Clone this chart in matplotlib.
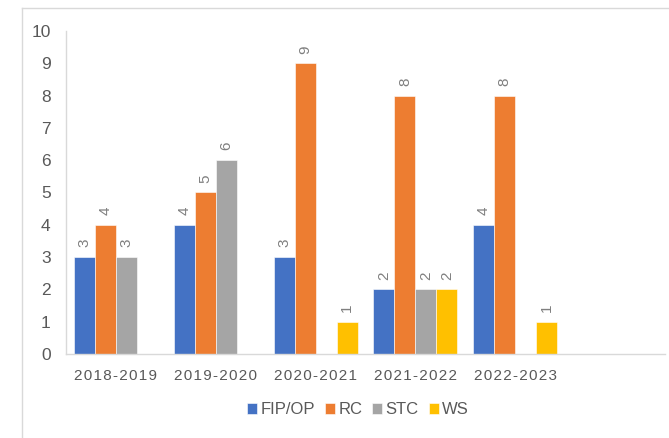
#!/usr/bin/env python3
"""Grouped bar chart of yearly counts per programme (FIP/OP, RC, STC, WS)."""

import matplotlib

matplotlib.use("Agg")

import matplotlib.pyplot as plt
import numpy as np
from matplotlib.lines import Line2D

YEARS = ["2018-2019", "2019-2020", "2020-2021", "2021-2022", "2022-2023", ""]
SERIES = ["FIP/OP", "RC", "STC", "WS"]
FIP_OP = [3, 4, 3, 2, 4, np.nan]
RC = [4, 5, 9, 8, 8, np.nan]
STC = [3, 6, np.nan, 2, np.nan, np.nan]
WS = [np.nan, np.nan, 1, 2, 1, np.nan]
Y_TICKS = list(range(0, 11))

COLORS = ["#4472C4", "#ED7D31", "#A5A5A5", "#FFC000"]
TEXT = "#595959"
LINE = "#D9D9D9"
HAIR = "\u200a"


def spaced(label: str) -> str:
    return HAIR.join(label)


def main() -> None:
    plt.rcParams["font.family"] = ["Liberation Sans", "DejaVu Sans"]

    fig = plt.figure(figsize=(6.69, 4.38), dpi=100)
    ax = fig.add_axes([66 / 669, 1 - 354 / 438, (665 - 66) / 669, (354 - 31) / 438])

    x = np.arange(len(YEARS))
    width = 0.21
    values = [FIP_OP, RC, STC, WS]
    for i, (name, vals, color) in enumerate(zip(SERIES, values, COLORS)):
        pos = x + (i - 1.5) * width
        arr = np.asarray(vals, dtype=float)
        ax.bar(pos, arr, width=width, color=color, edgecolor="white",
               linewidth=0.4, label=name)
        for px, v in zip(pos, arr):
            if np.isfinite(v):
                ax.annotate(f"{v:.0f}", (px, v), xytext=(0, 7),
                            textcoords="offset points", rotation=90,
                            ha="center", va="bottom", fontsize=11, color="#7F7F7F")

    ax.set_xlim(-0.5, len(YEARS) - 0.5)
    ax.set_ylim(0, 10)
    ax.set_yticks(Y_TICKS)
    ax.set_yticklabels([str(t) for t in Y_TICKS])
    ax.set_xticks(x)
    ax.set_xticklabels([spaced(y) for y in YEARS])
    ax.tick_params(axis="y", length=0, pad=11, labelsize=12.5, labelcolor=TEXT)
    ax.tick_params(axis="x", length=0, pad=11, labelsize=11, labelcolor=TEXT)

    for side in ["top", "right"]:
        ax.spines[side].set_visible(False)
    for side in ["left", "bottom"]:
        ax.spines[side].set_color(LINE)
        ax.spines[side].set_linewidth(1.0)

    ax.legend(loc="center", bbox_to_anchor=(358 / 669, 1 - 410 / 438),
              bbox_transform=fig.transFigure, ncol=4, frameon=False,
              handlelength=0.6, handleheight=0.6, handletextpad=0.2,
              columnspacing=0.6, fontsize=12, labelcolor=TEXT)

    # outer chart frame, partly cropped in the source
    fig.add_artist(Line2D([22 / 669, 22 / 669], [0, 1 - 8 / 438],
                          transform=fig.transFigure, color=LINE, linewidth=1.0))
    fig.add_artist(Line2D([22 / 669, 1], [1 - 8 / 438, 1 - 8 / 438],
                          transform=fig.transFigure, color=LINE, linewidth=1.0))

    fig.savefig("out.png", dpi=100)
    plt.close(fig)


if __name__ == "__main__":
    main()
